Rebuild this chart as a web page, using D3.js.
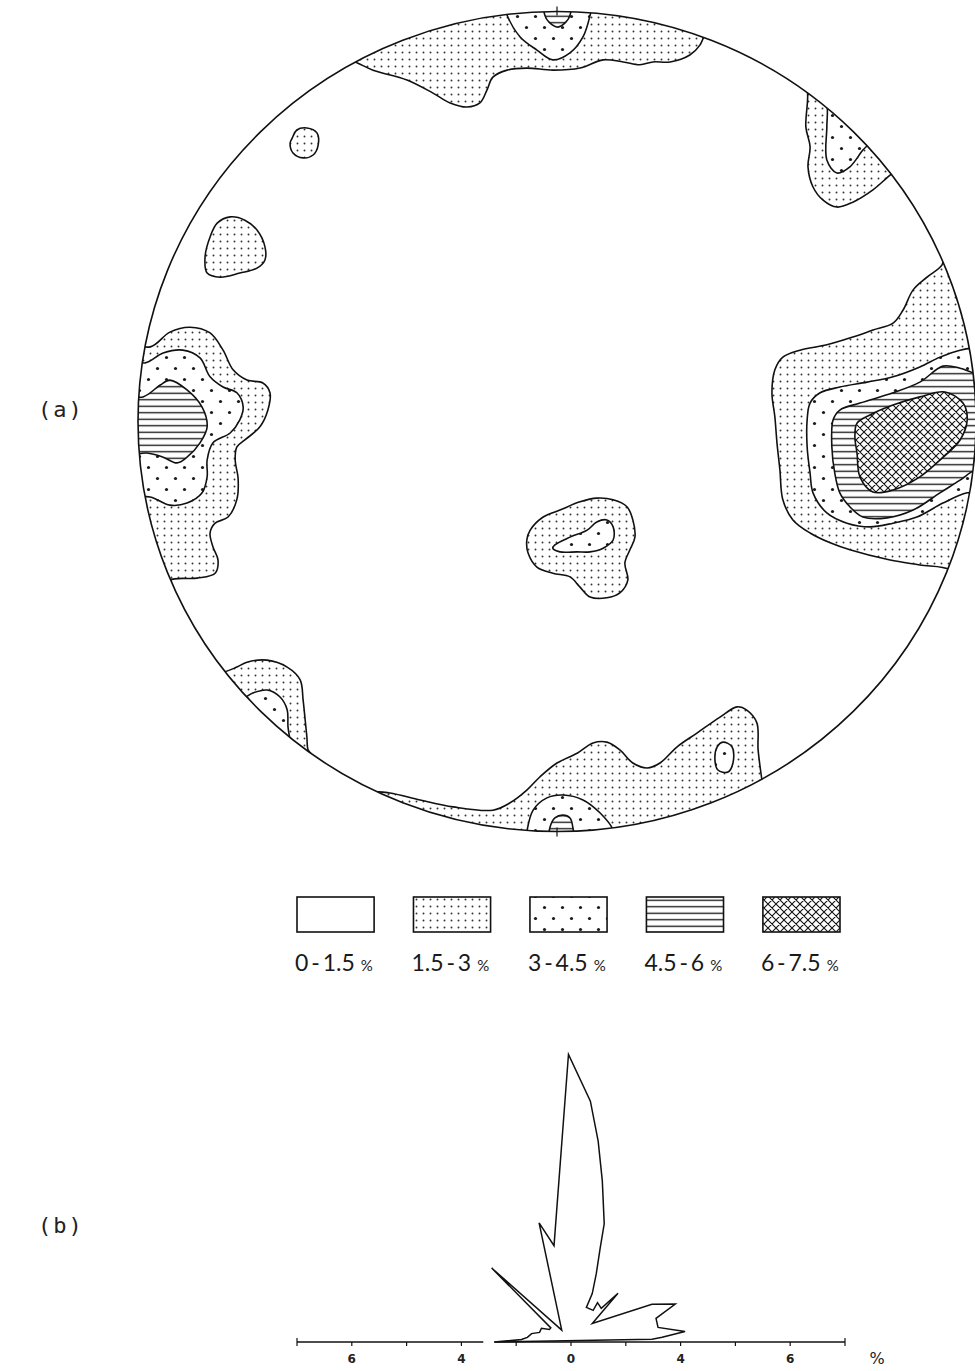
<!DOCTYPE html>
<html><head><meta charset="utf-8">
<script src="https://cdn.jsdelivr.net/npm/d3@7"></script>
<style>body{margin:0;background:#fff}</style>
</head><body>
<svg id="chart" width="975" height="1371"></svg>
<script>
// ---- density classes (percent of poles per counting area) ----
const classLabels = ["0-1.5", "1.5-3", "3-4.5", "4.5-6", "6-7.5"];
const classFills  = ["none", "fine", "sparse", "lines", "cross"];

// ---- contour outlines, net coordinates (% of net radius; x east, y north) ----
// parts lying beyond the primitive circle are clipped away
const northRim15 = [[-60,105],[-51,89],[-47.5,87.4],[-43.9,85.7],[-35.8,83.3],[-29.6,80.1],[-25.5,77.7],[-21.5,76.7],[-18.4,77.7],[-16.7,80.9],[-15.3,84.0],[-11.9,85.7],[-7.2,86.2],[-1.0,85.7],[5.5,86.2],[11.0,88.2],[15.8,87.7],[19.8,87.0],[22.9,87.7],[27.0,87.7],[31.7,89.4],[34.1,91.8],[35.6,95.5],[37,100],[40,110],[-60,110]];
const northRim30 = [[-12.5,102],[-11.9,99.1],[-8.8,93.8],[-4.8,90.6],[-1.0,88.2],[3.1,89.9],[6.2,93.8],[7.9,99.1],[8.5,103],[0,106]];
const northRim45 = [[-3,101.5],[-2.9,99.1],[-1.9,97.4],[0.2,96.2],[2.1,97.4],[3.1,99.1],[3.2,101.5]];
const northEast15 = [[58,84],[59.7,80.9],[59.4,71.8],[60.4,67.0],[59.9,62.1],[61.1,57.2],[63.5,54.0],[66.8,52.3],[70.6,53.5],[75.4,56.5],[79.5,60.1],[82,62],[90,70],[70,90]];
const northEast30 = [[63,80],[64.4,77.2],[64.4,71.8],[64.4,63.8],[66.8,60.6],[69.9,62.1],[73.0,66.2],[74.2,67.4],[77,70],[72,80]];
const spotNW = [[-63.2,69.1],[-62.1,71.1],[-59.7,71.6],[-57.3,70.4],[-57.0,67.4],[-58.2,65.0],[-60.6,64.3],[-63.0,65.5],[-63.7,67.9]];
const spotW = [[-82.8,45.0],[-81.1,48.4],[-78.0,49.9],[-74.5,49.1],[-71.6,46.7],[-69.7,42.6],[-69.7,39.4],[-71.6,37.4],[-75.7,36.2],[-80.4,35.2],[-83.5,36.2],[-84.0,40.1]];
const west15 = [[-105,20],[-97.1,18.2],[-92.4,21.8],[-87.6,23.0],[-82.8,21.6],[-79.7,17.4],[-77.3,12.6],[-74.0,10.1],[-70.2,9.4],[-68.5,7.0],[-69.0,2.8],[-70.9,-1.3],[-74.5,-4.5],[-76.4,-6.2],[-76.8,-9.4],[-76.1,-14.0],[-76.4,-19.0],[-78.5,-23.3],[-81.6,-24.8],[-82.8,-27.2],[-82.1,-30.6],[-80.9,-33.8],[-81.6,-37.0],[-85.9,-38.2],[-92.4,-38.7],[-95,-42],[-110,-40],[-110,20]];
const west30 = [[-105,15],[-98.3,14.3],[-94.0,16.7],[-89.3,17.4],[-85.2,15.5],[-82.8,10.9],[-79.7,8.4],[-76.4,7.0],[-74.9,3.5],[-75.7,0.4],[-78.0,-2.8],[-82.1,-5.2],[-83.5,-9.4],[-83.5,-13.5],[-84.7,-17.4],[-88.3,-19.9],[-92.4,-20.4],[-97.1,-18.4],[-105,-18]];
const west45 = [[-105,6],[-98.8,6.0],[-94.7,8.9],[-92.4,10.1],[-88.3,7.7],[-84.7,3.5],[-83.5,-1.3],[-85.2,-5.2],[-88.3,-8.7],[-90.7,-10.1],[-94.0,-8.7],[-97.9,-7.7],[-105,-8]];
const east15 = [[93,42],[91.9,38.2],[88.3,35.2],[85.0,32.1],[82.6,27.2],[80.2,24.0],[75.4,22.3],[70.6,20.6],[64.4,18.7],[58.0,17.4],[53.9,15.7],[52.0,12.6],[51.3,7.0],[52.0,1.1],[52.5,-5.2],[53.2,-11.8],[53.9,-19.1],[56.3,-24.0],[60.4,-27.2],[65.2,-29.6],[69.9,-31.3],[79.5,-33.8],[86.6,-35.0],[93.8,-36.2],[97,-40],[115,0],[97,45]];
const east30 = [[104,18],[99.3,17.9],[96.2,17.4],[91.4,15.7],[86.6,13.3],[80.2,10.9],[74.0,9.6],[67.5,8.4],[62.8,7.0],[60.4,4.5],[59.7,0.4],[59.7,-6.2],[60.4,-12.6],[61.1,-17.4],[64.4,-22.3],[69.2,-24.8],[74.7,-25.7],[80.2,-24.8],[85.9,-23.3],[92.1,-19.9],[97.9,-17.4],[104,-17]];
const east45 = [[104,12],[99.8,11.8],[96.2,13.0],[92.1,13.5],[86.6,9.6],[80.2,7.0],[72.3,4.5],[67.5,2.8],[65.9,0.4],[65.6,-6.2],[66.3,-12.6],[67.5,-17.4],[69.9,-20.8],[73.0,-23.3],[78.8,-23.5],[85.0,-21.6],[91.4,-17.4],[96.2,-14.3],[99.8,-11.8],[104,-11]];
const east60 = [[71.6,-0.4],[74.7,1.6],[80.2,4.0],[86.6,6.0],[92.6,7.2],[96.9,4.5],[97.9,0.4],[96.2,-4.5],[91.4,-9.4],[86.6,-13.5],[80.2,-16.7],[75.4,-17.2],[72.3,-13.5],[71.6,-7.7],[71.1,-3.8]];
const centre15 = [[-6.4,-26.5],[-3.3,-23.3],[0.7,-21.6],[5.5,-19.6],[9.5,-18.7],[13.4,-19.1],[16.7,-20.8],[18.1,-24.0],[18.6,-28.2],[17.4,-31.3],[16.2,-34.5],[16.9,-38.7],[15.0,-41.8],[11.9,-43.0],[7.9,-42.8],[5.5,-40.4],[3.1,-37.9],[-1.0,-37.0],[-4.8,-35.5],[-6.9,-32.1],[-7.2,-28.9]];
const centre30 = [[-0.5,-30.1],[3.1,-28.2],[7.2,-26.5],[9.5,-24.5],[11.9,-24.0],[13.4,-25.7],[13.4,-28.9],[11.0,-30.9],[7.9,-31.8],[4.8,-31.8],[0.7,-31.8],[-1.0,-30.9]];
const southWest15 = [[-84,-60],[-80.0,-61.1],[-76.4,-59.9],[-74.0,-58.7],[-69.2,-58.2],[-64.4,-59.9],[-61.3,-63.0],[-60.6,-67.9],[-60.1,-72.8],[-59.7,-76.9],[-59.4,-80.1],[-58.5,-81.3],[-57,-85],[-80,-80]];
const southWest30 = [[-77,-66],[-74.9,-67.4],[-72.6,-66.2],[-69.2,-65.5],[-66.1,-67.2],[-64.4,-70.3],[-64.2,-74.5],[-63.7,-77.7],[-63.2,-80.1],[-62,-84],[-75,-75]];
const southRim15 = [[-47,-92],[-43.4,-90.4],[-39.9,-90.6],[-32.7,-92.3],[-24.8,-94.0],[-15.3,-94.8],[-11.2,-93.0],[-7.2,-89.9],[-4.1,-86.7],[0,-83.3],[4.8,-80.9],[8.6,-78.4],[11.9,-78.2],[15.0,-80.1],[18.1,-83.3],[21.5,-84.5],[24.6,-83.3],[28.6,-79.4],[33.4,-76.0],[38.9,-72.1],[43.0,-69.6],[45.3,-70.4],[47.7,-73.5],[48.0,-80.1],[48.9,-87.4],[50,-95],[0,-110],[-50,-95]];
const southRim30 = [[-7.5,-103],[-7.2,-100.1],[-5.7,-94.8],[-2.4,-91.8],[1.4,-91.1],[6.2,-92.3],[10.3,-95.5],[13.4,-99.6],[14,-103]];
const southRim45 = [[-1.8,-102],[-1.7,-99.1],[-0.5,-96.7],[1.4,-96.0],[3.1,-96.7],[3.8,-99.1],[3.9,-102]];
const spotS = [[38.2,-79.4],[39.6,-78.2],[41.8,-79.4],[42.0,-83.3],[40.8,-85.5],[38.4,-85.0],[37.7,-82.6]];

// class index of each outline (1 = 1.5-3 %, 2 = 3-4.5 %, 3 = 4.5-6 %, 4 = 6-7.5 %)
const contourSets = [
  [1, northRim15], [1, northEast15], [1, spotNW], [1, spotW], [1, west15], [1, east15],
  [1, centre15], [1, southWest15], [1, southRim15],
  [2, northRim30], [2, northEast30], [2, west30], [2, east30], [2, centre30],
  [2, southWest30], [2, southRim30], [2, spotS],
  [3, northRim45], [3, west45], [3, east45], [3, southRim45],
  [4, east60]
];

// ---- rose of azimuths: outline vertices (azimuth in degrees from north, frequency in %) ----
const roseAzimuth = [-90, -87, -84, -78, -73, -65, -60, -55, -47, -38, -15, -10, -0.5, 4.6, 7.7, 11, 15.7, 17.2, 20.3, 23.7, 24, 35, 34, 42, 44, 49, 65, 70, 74.5, 80.5, 84.7, 87, 88];
const roseFreq    = [2.80, 1.81, 1.60, 1.47, 1.20, 1.19, 0.91, 0.90, 3.96, 0.55, 4.50, 3.57, 10.5, 8.82, 7.40, 5.99, 4.48, 3.61, 2.66, 1.93, 1.38, 1.41, 1.73, 1.65, 2.47, 1.03, 3.26, 4.05, 3.22, 3.22, 4.18, 3.33, 2.96];
const roseTicks      = [-10, -8, -6, -4, -2, 0, 2, 4, 6, 8, 10];
const roseTickLabels = ["", "6", "", "4", "", "0", "", "4", "", "6", ""];

const svg = d3.select("#chart");
const defs = svg.append("defs");

// ---- fill patterns ----
function pattern(id, w, h) {
  const p = defs.append("pattern").attr("id", id).attr("patternUnits", "userSpaceOnUse")
    .attr("width", w).attr("height", h);
  p.append("rect").attr("width", w).attr("height", h).attr("fill", "#fff");
  return p;
}
pattern("none", 10, 10);
pattern("fine", 7, 7).append("circle").attr("cx", 3.5).attr("cy", 3.5).attr("r", 0.95).attr("fill", "#333");
const sp = pattern("sparse", 18, 22);
sp.append("circle").attr("cx", 4.5).attr("cy", 5.5).attr("r", 1.6).attr("fill", "#1a1a1a");
sp.append("circle").attr("cx", 13.5).attr("cy", 16.5).attr("r", 1.6).attr("fill", "#1a1a1a");
pattern("lines", 10, 6.5).append("line").attr("x1", 0).attr("x2", 10).attr("y1", 3.25).attr("y2", 3.25)
  .attr("stroke", "#111").attr("stroke-width", 1.3);
pattern("cross", 8, 8).append("path").attr("d", "M-1,-1L9,9M9,-1L-1,9M-1,7L1,9M7,-1L9,1M-1,1L1,-1M7,9L9,7")
  .attr("stroke", "#111").attr("stroke-width", 1.1).attr("fill", "none");

// ---- equal-area net ----
const netX = d3.scaleLinear().domain([-100, 100]).range([138, 976]);
const netY = d3.scaleLinear().domain([-100, 100]).range([831.5, 11.5]);
const cx = netX(0), cy = netY(0), rx = netX(100) - cx, ry = cy - netY(100);

defs.append("clipPath").attr("id", "net-clip")
  .append("ellipse").attr("cx", cx).attr("cy", cy).attr("rx", rx).attr("ry", ry);

const outline = d3.line().x(d => netX(d[0])).y(d => netY(d[1]))
  .curve(d3.curveCatmullRomClosed.alpha(0.5));

const net = svg.append("g").attr("clip-path", "url(#net-clip)");
net.selectAll("path.contour")
  .data(contourSets.slice().sort((a, b) => a[0] - b[0]))
  .join("path")
  .attr("class", "contour")
  .attr("d", d => outline(d[1]))
  .attr("fill", d => `url(#${classFills[d[0]]})`)
  .attr("stroke", "#111")
  .attr("stroke-width", 1.6)
  .attr("stroke-linejoin", "round");

svg.append("ellipse").attr("cx", cx).attr("cy", cy).attr("rx", rx).attr("ry", ry)
  .attr("fill", "none").attr("stroke", "#111").attr("stroke-width", 1.6);

// north and south marks
svg.selectAll("line.pole").data([[0, 100], [0, -100]]).join("line")
  .attr("class", "pole")
  .attr("x1", d => netX(d[0])).attr("x2", d => netX(d[0]))
  .attr("y1", d => netY(d[1] * 0.99)).attr("y2", d => netY(d[1] * 1.012))
  .attr("stroke", "#111").attr("stroke-width", 1.2);

// ---- legend ----
const legendX = d3.scaleBand().domain(classLabels).range([297, 840]).paddingInner(0.338);
const legend = svg.append("g");
legend.selectAll("rect").data(classLabels).join("rect")
  .attr("x", d => legendX(d)).attr("y", 897)
  .attr("width", legendX.bandwidth()).attr("height", 35)
  .attr("fill", (d, i) => i === 0 ? "#fff" : `url(#${classFills[i]})`)
  .attr("stroke", "#111").attr("stroke-width", 1.6);
const lt = legend.selectAll("text").data(classLabels).join("text")
  .attr("x", d => legendX(d) - 2).attr("y", 971)
  .attr("font-family", "Lato, 'DejaVu Sans', sans-serif")
  .attr("font-size", 23).attr("fill", "#1a1a1a");
lt.append("tspan").text(d => d.replace("-", "\u2009-\u2009"));
lt.append("tspan").attr("font-size", 15).attr("dx", 6).text("%");

// ---- panel letters ----
svg.selectAll("text.panel").data([["(a)", 417], ["(b)", 1233]]).join("text")
  .attr("class", "panel")
  .attr("x", 38).attr("y", d => d[1])
  .attr("font-family", "'DejaVu Sans Mono', monospace")
  .attr("font-size", 22).attr("letter-spacing", 2).attr("fill", "#222")
  .text(d => d[0]);

// ---- rose diagram ----
const axisY = 1342;
const roseX = d3.scaleLinear().domain([-10, 10]).range([297, 845]);
const roseR = d3.scaleLinear().domain([0, 10]).range([0, roseX(10) - roseX(0)]);

const rose = svg.append("g");
rose.selectAll("line.axis").data([[-10, -3.2], [-2.8, 10]]).join("line")
  .attr("class", "axis")
  .attr("x1", d => roseX(d[0])).attr("x2", d => roseX(d[1]))
  .attr("y1", axisY).attr("y2", axisY)
  .attr("stroke", "#111").attr("stroke-width", 1.6);
rose.selectAll("line.tick").data(roseTicks).join("line")
  .attr("class", "tick")
  .attr("x1", d => roseX(d)).attr("x2", d => roseX(d))
  .attr("y1", d => Math.abs(d) === 10 ? axisY - 4 : axisY)
  .attr("y2", d => axisY + 4)
  .attr("stroke", "#111").attr("stroke-width", 1.2);
rose.selectAll("text.tick").data(roseTicks).join("text")
  .attr("class", "tick")
  .attr("x", d => roseX(d)).attr("y", axisY + 21)
  .attr("text-anchor", "middle")
  .attr("font-family", "'DejaVu Sans', sans-serif").attr("font-weight", "bold")
  .attr("font-size", 12).attr("fill", "#222")
  .text((d, i) => roseTickLabels[i]);
rose.append("text").attr("x", roseX(10) + 32).attr("y", axisY + 22)
  .attr("text-anchor", "middle")
  .attr("font-family", "'DejaVu Sans', sans-serif")
  .attr("font-size", 16).attr("fill", "#222").text("%");

const roseLine = d3.lineRadial()
  .angle(i => roseAzimuth[i] * Math.PI / 180)
  .radius(i => roseR(roseFreq[i]))
  .curve(d3.curveLinearClosed);
rose.append("path")
  .attr("transform", `translate(${roseX(0)},${axisY})`)
  .attr("d", roseLine(d3.range(roseAzimuth.length)))
  .attr("fill", "none").attr("stroke", "#111").attr("stroke-width", 1.5)
  .attr("stroke-linejoin", "miter");
</script>
</body></html>
